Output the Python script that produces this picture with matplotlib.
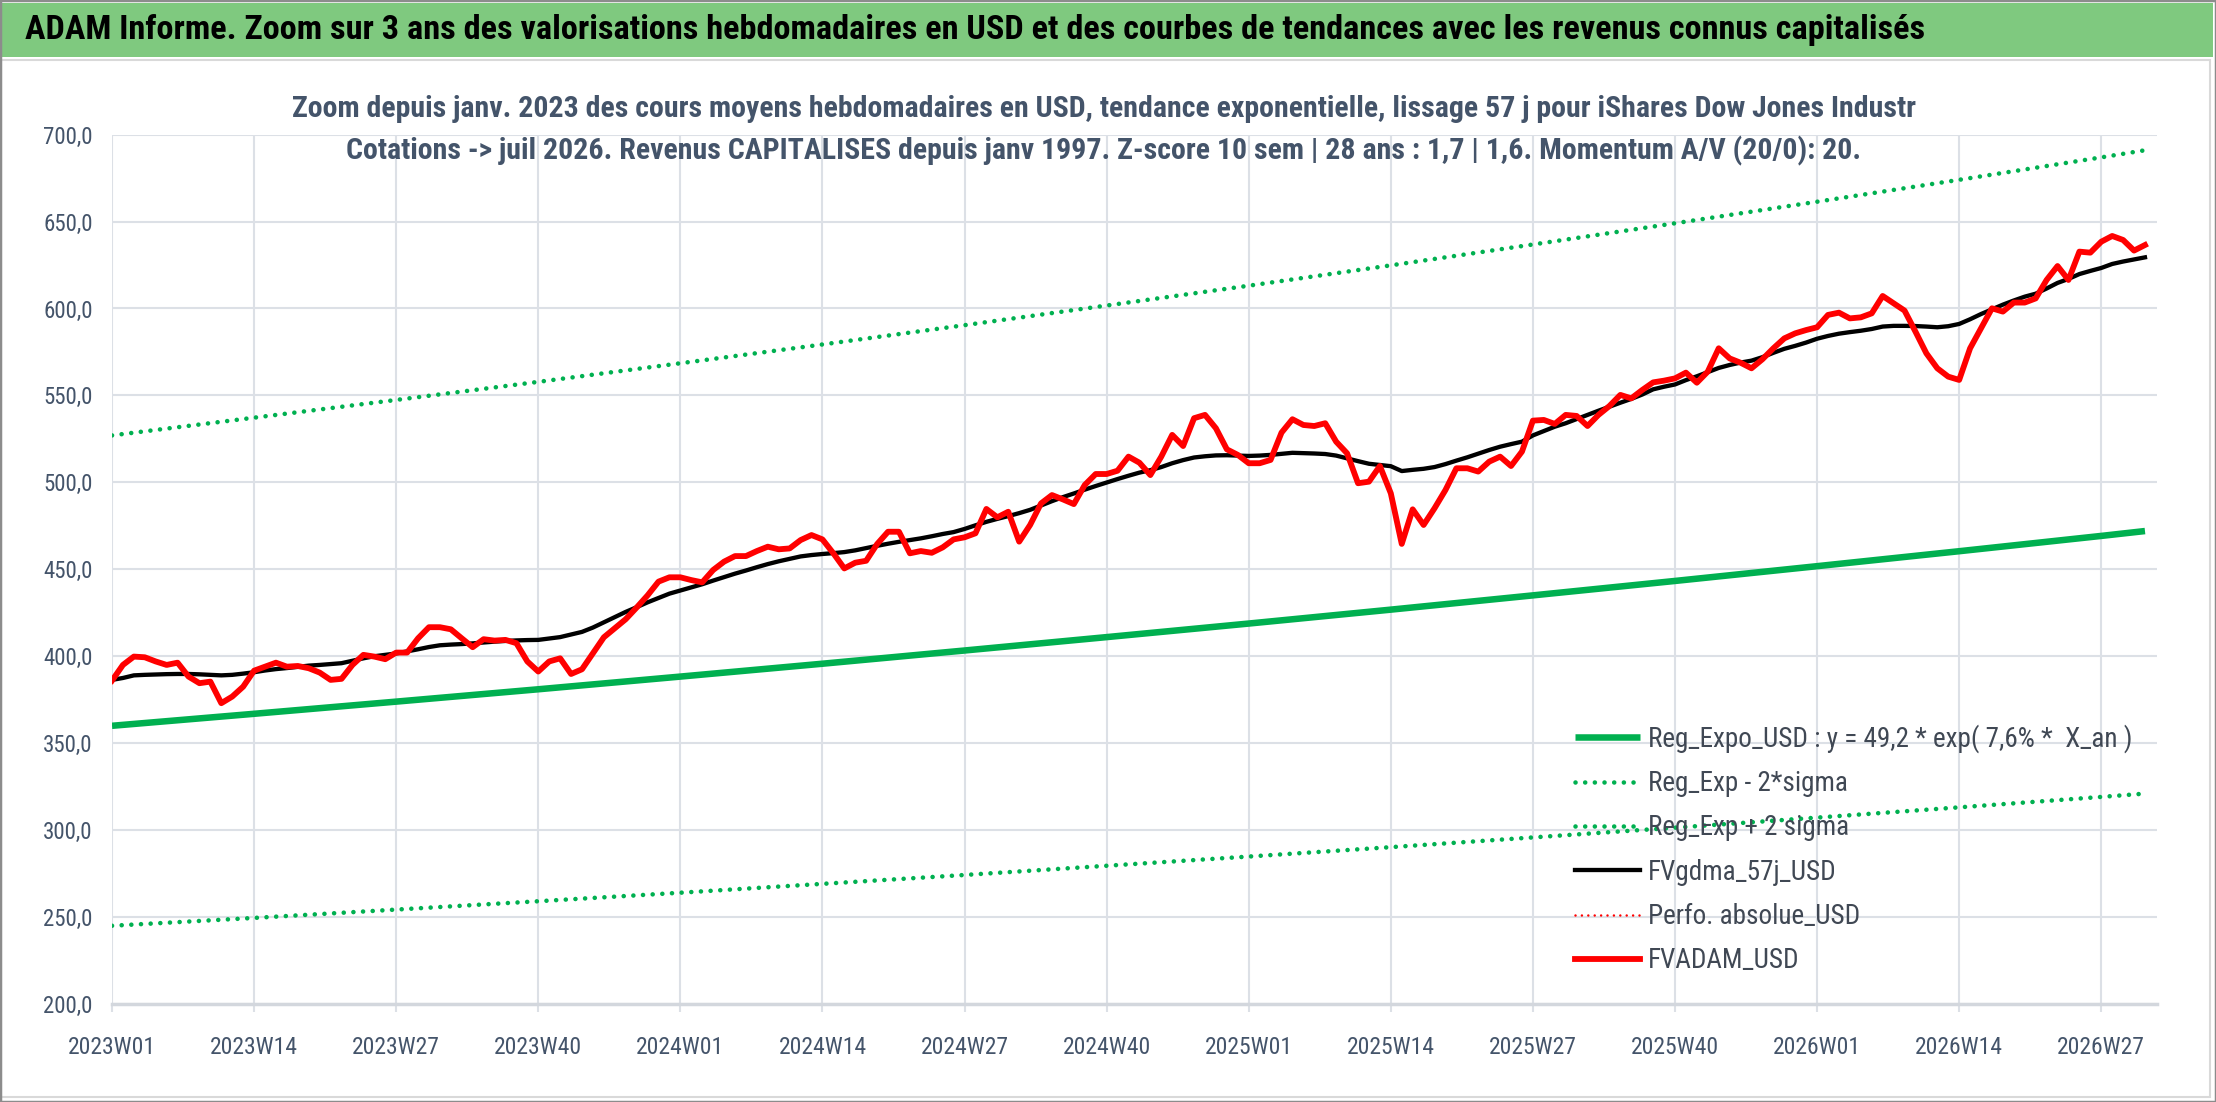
import matplotlib
matplotlib.use("Agg")
import matplotlib.pyplot as plt
import matplotlib.patches as patches
from matplotlib import font_manager
from matplotlib.ticker import FuncFormatter


def pick_font(names):
    # first family that is really installed
    for name in names:
        try:
            font_manager.findfont(font_manager.FontProperties(family=name),
                                  fallback_to_default=False)
            return name
        except ValueError:
            continue
    return "DejaVu Sans"


NARROW = pick_font(["Liberation Sans Narrow", "Roboto Condensed",
                    "Open Sans Condensed", "Noto Sans", "Roboto"])
plt.rcParams["font.family"] = [NARROW, "DejaVu Sans"]

# ---- data -------------------------------------------------------------
years = [2023, 2024, 2025, 2026]
weeks_per_year = [52, 52, 52, 31]
categories = []
for y, n in zip(years, weeks_per_year):
    for w in range(1, n + 1):
        categories.append(f"{y}W{w:02d}")

tick_labels = ["2023W01", "2023W14", "2023W27", "2023W40",
               "2024W01", "2024W14", "2024W27", "2024W40",
               "2025W01", "2025W14", "2025W27", "2025W40",
               "2026W01", "2026W14", "2026W27"]

# FVADAM_USD (weekly)
fvadam = [
    386.0, 395.0, 399.8, 399.4, 397.0, 395.0, 396.3, 388.3, 384.5, 385.4,
    373.0, 376.8, 382.5, 391.7, 394.0, 396.3, 394.0, 394.4, 393.1, 390.6,
    386.4, 387.0, 395.0, 400.8, 399.8, 398.3, 402.1, 402.1, 410.3, 416.7,
    416.7, 415.5, 410.3, 405.2, 409.8, 409.0, 409.4, 407.5, 397.0, 391.2,
    397.0, 398.8, 389.8, 392.5, 401.7, 410.9, 416.1, 421.3, 428.0, 435.0,
    442.9, 445.4, 445.4, 443.8, 442.5, 449.6, 454.4, 457.6, 457.6, 460.5,
    463.0, 461.5, 462.0, 466.8, 469.7, 467.2, 459.2, 450.5, 453.8, 454.9,
    464.5, 471.6, 471.6, 459.2, 460.5, 459.5, 462.6, 467.2, 468.4, 470.7,
    484.7, 479.9, 483.1, 465.9, 475.5, 487.9, 492.7, 490.2, 487.5, 498.5,
    504.8, 504.8, 506.7, 514.8, 511.3, 504.2, 514.8, 527.3, 520.9, 536.9,
    538.8, 531.1, 519.0, 515.8, 511.0, 511.0, 512.9, 528.6, 536.3, 533.0,
    532.4, 534.0, 523.4, 516.7, 499.5, 500.4, 509.4, 493.7, 464.6, 484.5,
    475.5, 485.1, 495.6, 508.1, 508.1, 506.2, 511.9, 514.8, 509.4, 517.7,
    535.5, 535.9, 533.6, 538.8, 538.2, 532.4, 538.8, 543.9, 550.3, 548.3,
    553.1, 557.5, 558.5, 559.8, 563.1, 557.3, 563.7, 577.1, 571.3, 568.8,
    565.6, 570.8, 577.1, 582.8, 585.7, 587.6, 589.2, 596.3, 597.6, 594.3,
    594.9, 597.2, 607.2, 603.0, 598.8, 586.7, 574.2, 565.6, 560.8, 558.9,
    577.1, 588.6, 600.1, 598.2, 603.4, 603.4, 605.8, 616.4, 624.4, 616.4,
    632.7, 632.1, 638.4, 641.7, 639.4, 633.3, 636.5,
]

# FVgdma_57j_USD (weekly)
fvgdma = [
    386.4, 387.5, 389.0, 389.3, 389.5, 389.7, 389.8, 389.8, 389.6, 389.3,
    389.0, 389.3, 390.0, 390.8, 391.8, 392.6, 393.2, 393.9, 394.6, 395.0,
    395.5, 396.0, 397.4, 398.8, 400.0, 400.8, 401.6, 402.8, 404.0, 405.3,
    406.3, 406.7, 407.0, 407.4, 407.9, 408.4, 408.8, 409.1, 409.3, 409.4,
    410.2, 411.0, 412.5, 414.0, 416.5, 419.5, 422.5, 425.5, 428.2, 431.0,
    433.5, 436.0, 437.8, 439.6, 441.4, 443.5, 445.5, 447.5, 449.3, 451.2,
    453.0, 454.6, 456.0, 457.4, 458.2, 458.8, 459.3, 459.9, 460.9, 462.2,
    463.5, 464.7, 465.8, 466.8, 467.8, 469.0, 470.3, 471.4, 473.2, 475.3,
    477.3, 479.0, 480.6, 482.3, 484.2, 486.7, 489.2, 491.5, 493.6, 495.8,
    497.9, 499.9, 501.9, 503.8, 505.6, 507.0, 508.8, 511.0, 512.8, 514.3,
    515.0, 515.5, 515.6, 515.4, 515.2, 515.4, 515.8, 516.4, 517.0, 516.8,
    516.6, 516.3, 515.4, 513.8, 512.2, 510.7, 510.0, 509.3, 506.5, 507.2,
    507.8, 508.8, 510.5, 512.5, 514.4, 516.5, 518.6, 520.5, 522.0, 523.4,
    527.0, 529.5, 532.0, 534.0, 536.4, 538.8, 541.2, 543.5, 545.8, 548.0,
    550.5, 553.5, 555.0, 556.3, 558.8, 561.0, 563.4, 565.8, 567.5, 568.9,
    570.0, 572.0, 574.5, 576.8, 578.5, 580.4, 582.6, 584.2, 585.5, 586.4,
    587.2, 588.2, 589.6, 590.0, 590.0, 589.9, 589.6, 589.2, 589.8, 591.1,
    593.8, 596.8, 599.5, 602.2, 604.6, 606.8, 608.5, 611.5, 614.7, 617.0,
    619.8, 621.6, 623.3, 625.6, 627.0, 628.2, 629.4,
]

# exponential trend and +/- 2 sigma bands, read at the labelled weeks + last week
trend_weeks = tick_labels + ["2026W31"]
reg_expo = [360.0, 366.9, 373.9, 381.0, 388.3, 395.7, 403.3, 411.0,
            418.8, 426.8, 435.0, 443.3, 451.8, 460.4, 469.2, 472.0]
reg_plus = [527.0, 537.2, 547.4, 557.8, 568.5, 579.3, 590.4, 601.7,
            613.1, 624.8, 636.8, 649.0, 661.4, 674.0, 686.9, 691.0]
reg_minus = [245.0, 249.5, 254.3, 259.1, 264.0, 269.1, 274.2, 279.5,
             284.8, 290.2, 295.8, 301.4, 307.2, 313.1, 319.1, 321.0]

title = ("ADAM Informe. Zoom sur 3 ans des valorisations hebdomadaires en USD "
         "et des courbes de tendances avec les revenus connus capitalisés")
subtitle_1 = ("Zoom depuis janv. 2023 des cours moyens hebdomadaires en USD, "
              "tendance exponentielle, lissage 57 j pour iShares Dow Jones Industr")
subtitle_2 = ("Cotations -> juil 2026. Revenus CAPITALISES depuis janv 1997. "
              "Z-score 10 sem | 28 ans : 1,7 | 1,6. Momentum A/V (20/0): 20.")

# ---- styles -------------------------------------------------------------
GREEN = "#00B050"
RED = "#FF0000"
TEXT = "#44546A"
GRID = "#DCE0E6"

fig = plt.figure(figsize=(22.16, 11.02), dpi=100)
W, H = 2216, 1102

# banner + frames
fig.patches.append(patches.Rectangle((0, 1 - 57 / H), 2213 / W, 54 / H,
                                     transform=fig.transFigure,
                                     facecolor="#7FC97F", edgecolor="none"))
fig.patches.append(patches.Rectangle((1 / W, 1 - 1097 / H), 2209 / W, 1037 / H,
                                     transform=fig.transFigure,
                                     facecolor="none", edgecolor="#D9D9D9",
                                     lw=1.5))
fig.patches.append(patches.Rectangle((0, 0), 1, 1, transform=fig.transFigure,
                                     facecolor="none", edgecolor="#8C8C8C",
                                     lw=2.5))

fig.text(25 / W, 1 - 30 / H, title, fontsize=24.7, fontweight="bold",
         color="black", ha="left", va="center")
fig.text(0.498, 1 - 109 / H, subtitle_1, fontsize=21.5, fontweight="bold",
         color=TEXT, ha="center", va="center")
fig.text(0.498, 1 - 151 / H, subtitle_2, fontsize=21.5, fontweight="bold",
         color=TEXT, ha="center", va="center")

ax = fig.add_axes([112 / W, 1 - 1004 / H, (2157 - 112) / W, (1004 - 134.6) / H])

x = list(range(len(categories)))
trend_x = [categories.index(w) for w in trend_weeks]

dot_green = (0, (0.01, 2.1))
ax.plot(trend_x, reg_expo, color=GREEN, lw=4.7, solid_capstyle="butt",
        label="Reg_Expo_USD : y = 49,2 * exp( 7,6% *  X_an )", zorder=3)
ax.plot(trend_x, reg_minus, color=GREEN, lw=3.3, linestyle=dot_green,
        dash_capstyle="round", label="Reg_Exp - 2*sigma", zorder=3)
ax.plot(trend_x, reg_plus, color=GREEN, lw=3.3, linestyle=dot_green,
        dash_capstyle="round", label="Reg_Exp + 2 sigma", zorder=3)
ax.plot(x[:len(fvgdma)], fvgdma, color="black", lw=3.1,
        solid_joinstyle="round", label="FVgdma_57j_USD", zorder=4)
ax.plot([], [], color=RED, lw=1.8, linestyle=(0, (0.01, 2.55)),
        dash_capstyle="round", label="Perfo. absolue_USD")
ax.plot(x[:len(fvadam)], fvadam, color=RED, lw=4.2,
        solid_joinstyle="round", label="FVADAM_USD", zorder=5)

ax.set_xlim(0, len(categories) - 1 + 1.1)
ax.set_ylim(200, 700)
ax.set_yticks(range(200, 701, 50))
ax.yaxis.set_major_formatter(FuncFormatter(lambda v, p: f"{v:.1f}".replace(".", ",")))
ax.set_xticks([categories.index(t) for t in tick_labels])
ax.set_xticklabels(tick_labels)

ax.grid(True, color=GRID, lw=1.5, zorder=0)
ax.set_axisbelow(True)
for side in ["top", "right", "left"]:
    ax.spines[side].set_visible(False)
ax.spines["bottom"].set_color("#D3D7DD")
ax.spines["bottom"].set_linewidth(2.5)
ax.tick_params(axis="y", length=0, pad=14, labelsize=16.5, labelcolor=TEXT)
ax.tick_params(axis="x", length=6, width=1.5, color=GRID, pad=17,
               labelsize=17, labelcolor=TEXT)

leg = fig.legend(loc="upper left", bbox_to_anchor=(1575 / W, 1 - 724 / H),
                 frameon=False, fontsize=19.5, handlelength=2.4,
                 handletextpad=0.3, labelspacing=0.64, borderpad=0,
                 borderaxespad=0)
for t in leg.get_texts():
    t.set_color("#404854")

fig.savefig("out.png", dpi=100)
